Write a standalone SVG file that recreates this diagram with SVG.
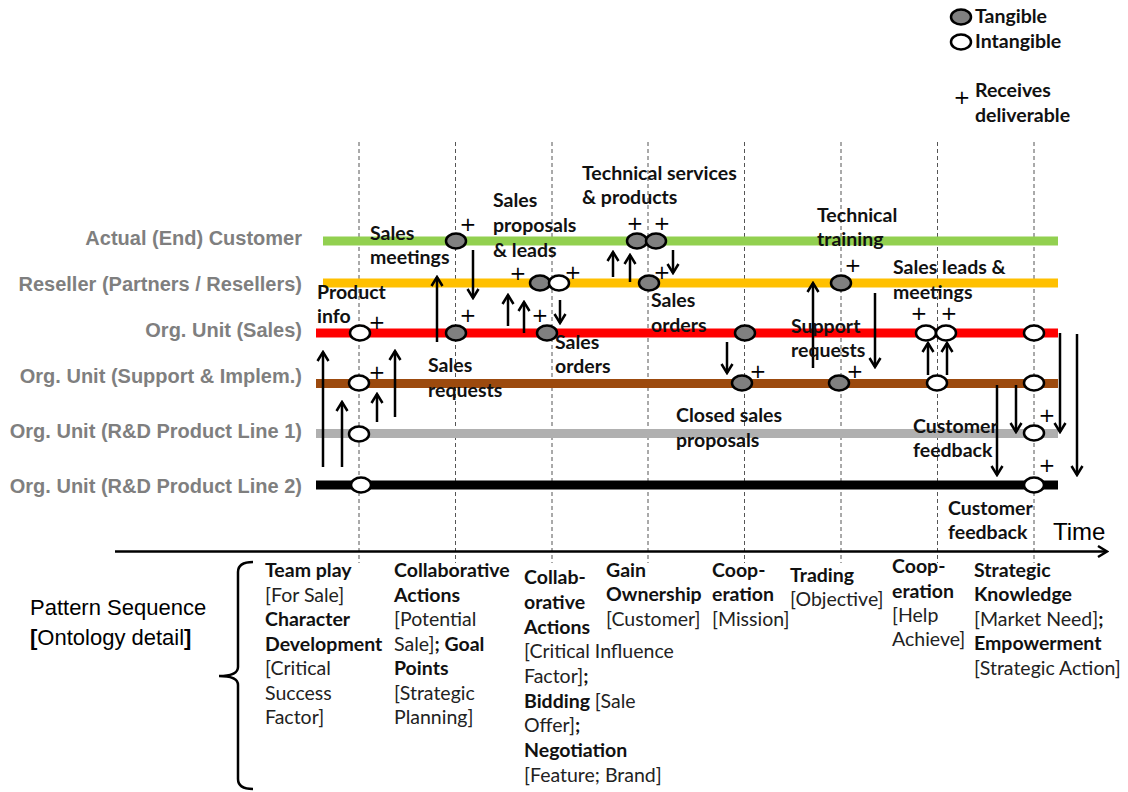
<svg xmlns="http://www.w3.org/2000/svg" width="1128" height="792" viewBox="0 0 1128 792">
<style>
.lane{stroke-width:9;fill:none}
.grid{stroke:#555;stroke-width:1;stroke-dasharray:4 3;fill:none}
.lbl{font-family:"Liberation Sans",Arial,sans-serif;font-weight:bold;font-size:20px;fill:#7f7f7f;text-anchor:end}
.t{font-family:Lato,"Liberation Sans",sans-serif;font-weight:bold;font-size:19.5px;fill:#111}
.r{font-weight:normal;fill:#222}
.b{font-weight:bold;fill:#111}
.p{font-family:"DejaVu Sans",sans-serif;font-size:20px;fill:#000;text-anchor:middle}
.tg{fill:#808080;stroke:#000;stroke-width:2.5}
.it{fill:#fff;stroke:#000;stroke-width:2.5}
.arr{stroke:#000;stroke-width:2.5;fill:none;marker-end:url(#ah)}
</style>
<defs>
<marker id="ah" markerUnits="userSpaceOnUse" viewBox="-12 -8 14 16" refX="0" refY="0" markerWidth="14" markerHeight="16" orient="auto">
<path d="M-9,-5.5 L0,0 L-9,5.5" fill="none" stroke="#000" stroke-width="2.5"/>
</marker>
</defs>

<g id="grid">
<line class="grid" x1="359" y1="142" x2="359" y2="563"/>
<line class="grid" x1="455.5" y1="142" x2="455.5" y2="563"/>
<line class="grid" x1="552" y1="142" x2="552" y2="563"/>
<line class="grid" x1="648" y1="142" x2="648" y2="563"/>
<line class="grid" x1="744.5" y1="142" x2="744.5" y2="563"/>
<line class="grid" x1="841" y1="142" x2="841" y2="563"/>
<line class="grid" x1="937.5" y1="142" x2="937.5" y2="563"/>
<line class="grid" x1="1034" y1="142" x2="1034" y2="563"/>
</g>

<g id="lanes">
<line class="lane" x1="323" y1="241" x2="1058" y2="241" stroke="#92d050" stroke-width="8"/>
<line class="lane" x1="323" y1="283" x2="1058" y2="283" stroke="#ffc000" stroke-width="8"/>
<line class="lane" x1="316" y1="333" x2="1058" y2="333" stroke="#ff0000"/>
<line class="lane" x1="316" y1="383.5" x2="1058" y2="383.5" stroke="#9c4a0e"/>
<line class="lane" x1="316" y1="433.5" x2="1058" y2="433.5" stroke="#b0b0b0" stroke-width="8"/>
<line class="lane" x1="316" y1="485" x2="1058" y2="485" stroke="#000"/>
</g>

<g id="lane-labels">
<text class="lbl" x="302" y="245">Actual (End) Customer</text>
<text class="lbl" x="302" y="291">Reseller (Partners / Resellers)</text>
<text class="lbl" x="302" y="337">Org. Unit (Sales)</text>
<text class="lbl" x="302" y="383">Org. Unit (Support &amp; Implem.)</text>
<text class="lbl" x="302" y="438">Org. Unit (R&amp;D Product Line 1)</text>
<text class="lbl" x="302" y="493">Org. Unit (R&amp;D Product Line 2)</text>
</g>

<g id="connectors">
<line class="arr" x1="323" y1="467" x2="323" y2="352"/>
<line class="arr" x1="342" y1="467" x2="342" y2="402"/>
<line class="arr" x1="377" y1="422" x2="377" y2="394"/>
<line class="arr" x1="395" y1="417" x2="395" y2="351"/>
<line class="arr" x1="437" y1="342" x2="437" y2="277"/>
<line class="arr" x1="508" y1="326" x2="508" y2="295"/>
<line class="arr" x1="524" y1="333" x2="524" y2="302"/>
<line class="arr" x1="613" y1="277" x2="613" y2="252"/>
<line class="arr" x1="630" y1="282" x2="630" y2="255"/>
<line class="arr" x1="813" y1="368" x2="813" y2="283"/>
<line class="arr" x1="928" y1="375" x2="928" y2="343"/>
<line class="arr" x1="947" y1="375" x2="947" y2="343"/>
<line class="arr" x1="473" y1="250" x2="473" y2="298"/>
<line class="arr" x1="560" y1="300" x2="560" y2="323"/>
<line class="arr" x1="673" y1="250" x2="673" y2="273"/>
<line class="arr" x1="727" y1="342" x2="727" y2="373"/>
<line class="arr" x1="875" y1="293" x2="875" y2="367"/>
<line class="arr" x1="997" y1="385" x2="997" y2="475"/>
<line class="arr" x1="1016" y1="385" x2="1016" y2="432"/>
<line class="arr" x1="1060" y1="333" x2="1060" y2="432"/>
<line class="arr" x1="1077" y1="334" x2="1077" y2="475"/>
<line class="arr" x1="115" y1="551.5" x2="1107" y2="551.5"/>
</g>

<g id="nodes">
<g id="n-green-456"><ellipse class="tg" cx="456" cy="241" rx="10" ry="7.5"/></g>
<g id="n-green-637"><ellipse class="tg" cx="637" cy="241" rx="10" ry="7.5"/></g>
<g id="n-green-656"><ellipse class="tg" cx="656" cy="241" rx="10" ry="7.5"/></g>
<g id="n-yellow-540"><ellipse class="tg" cx="540" cy="283" rx="10" ry="7.5"/></g>
<g id="n-yellow-559"><ellipse class="it" cx="559" cy="283" rx="10" ry="7.5"/></g>
<g id="n-yellow-649"><ellipse class="tg" cx="649" cy="283" rx="10" ry="7.5"/></g>
<g id="n-yellow-841"><ellipse class="tg" cx="841" cy="283" rx="10" ry="7.5"/></g>
<g id="n-red-360"><ellipse class="it" cx="360" cy="333" rx="10" ry="7.5"/></g>
<g id="n-red-456"><ellipse class="tg" cx="456" cy="333" rx="10" ry="7.5"/></g>
<g id="n-red-547"><ellipse class="tg" cx="547" cy="333" rx="10" ry="7.5"/></g>
<g id="n-red-745"><ellipse class="tg" cx="745" cy="333" rx="10" ry="7.5"/></g>
<g id="n-red-926"><ellipse class="it" cx="926" cy="333" rx="10" ry="7.5"/></g>
<g id="n-red-946"><ellipse class="it" cx="946" cy="333" rx="10" ry="7.5"/></g>
<g id="n-red-1034"><ellipse class="it" cx="1034" cy="333" rx="10" ry="7.5"/></g>
<g id="n-brown-359"><ellipse class="it" cx="359" cy="383" rx="10" ry="7.5"/></g>
<g id="n-brown-742"><ellipse class="tg" cx="742" cy="383" rx="10" ry="7.5"/></g>
<g id="n-brown-839"><ellipse class="tg" cx="839" cy="383" rx="10" ry="7.5"/></g>
<g id="n-brown-937"><ellipse class="it" cx="937" cy="383" rx="10" ry="7.5"/></g>
<g id="n-brown-1034"><ellipse class="it" cx="1034" cy="383" rx="10" ry="7.5"/></g>
<g id="n-gray-359"><ellipse class="it" cx="359" cy="434" rx="10" ry="7.5"/></g>
<g id="n-gray-1034"><ellipse class="it" cx="1034" cy="433" rx="10" ry="7.5"/></g>
<g id="n-black-361"><ellipse class="it" cx="361" cy="485" rx="10" ry="7.5"/></g>
<g id="n-black-1034"><ellipse class="it" cx="1034" cy="485" rx="10" ry="7.5"/></g>
</g>

<g id="plus-marks">
<text class="p" x="377" y="329">+</text>
<text class="p" x="377" y="379">+</text>
<text class="p" x="468" y="231">+</text>
<text class="p" x="468" y="322">+</text>
<text class="p" x="518" y="280">+</text>
<text class="p" x="573" y="279">+</text>
<text class="p" x="540" y="322">+</text>
<text class="p" x="635" y="230">+</text>
<text class="p" x="662" y="230">+</text>
<text class="p" x="662" y="279">+</text>
<text class="p" x="853" y="272">+</text>
<text class="p" x="758" y="378">+</text>
<text class="p" x="855" y="378">+</text>
<text class="p" x="919" y="320">+</text>
<text class="p" x="949" y="320">+</text>
<text class="p" x="1047" y="422">+</text>
<text class="p" x="1047" y="472">+</text>
</g>

<g id="flow-labels" class="t">
<text x="317" y="299">Product</text><text x="317" y="323">info</text>
<text x="370" y="240">Sales</text><text x="370" y="264">meetings</text>
<text x="493" y="207">Sales</text><text x="493" y="232">proposals</text><text x="493" y="257">&amp; leads</text>
<text x="582" y="180">Technical services</text><text x="582" y="204">&amp; products</text>
<text x="428" y="372">Sales</text><text x="428" y="397">requests</text>
<text x="555" y="349">Sales</text><text x="555" y="373">orders</text>
<text x="651" y="307">Sales</text><text x="651" y="332">orders</text>
<text x="817" y="222">Technical</text><text x="817" y="246">training</text>
<text x="791" y="333">Support</text><text x="791" y="357">requests</text>
<text x="676" y="422">Closed sales</text><text x="676" y="447">proposals</text>
<text x="893" y="274">Sales leads &amp;</text><text x="893" y="299">meetings</text>
<text x="913" y="433">Customer</text><text x="913" y="457">feedback</text>
<text x="948" y="515">Customer</text><text x="948" y="539">feedback</text>
</g>

<g id="legend">
<ellipse class="tg" cx="961" cy="17" rx="10" ry="7.5"/>
<text class="t" x="975" y="23">Tangible</text>
<ellipse class="it" cx="961" cy="42" rx="10" ry="7.5"/>
<text class="t" x="975" y="48">Intangible</text>
<text class="p" x="962" y="104">+</text>
<text class="t" x="975" y="97">Receives</text>
<text class="t" x="975" y="122">deliverable</text>
</g>

<g id="time-axis">
<text x="1053" y="540" font-family="Liberation Sans,Arial,sans-serif" font-size="24" fill="#000">Time</text>
</g>

<g id="pattern-sequence">
<text x="30" y="615" font-family="Liberation Sans,Arial,sans-serif" font-size="22" fill="#000">Pattern Sequence</text>
<text x="30" y="645" font-family="Liberation Sans,Arial,sans-serif" font-size="22" fill="#000"><tspan font-weight="bold">[</tspan>Ontology detail<tspan font-weight="bold">]</tspan></text>
<path d="M253,562 Q238,562 238,572 L238,667 Q238,676 219,676 Q238,676 238,685 L238,779 Q238,789 253,789" fill="none" stroke="#000" stroke-width="2.5"/>
</g>

<g id="pattern-columns" class="t">
<text x="265" y="577">Team play</text>
<text x="265" y="602" class="r">[For Sale]</text>
<text x="265" y="626">Character</text>
<text x="265" y="651">Development</text>
<text x="265" y="675" class="r">[Critical</text>
<text x="265" y="700" class="r">Success</text>
<text x="265" y="724" class="r">Factor]</text>

<text x="394" y="577">Collaborative</text>
<text x="394" y="602">Actions</text>
<text x="394" y="626" class="r">[Potential</text>
<text x="394" y="651"><tspan class="r">Sale]</tspan>; Goal</text>
<text x="394" y="675">Points</text>
<text x="394" y="700" class="r">[Strategic</text>
<text x="394" y="724" class="r">Planning]</text>

<text x="524" y="584">Collab-</text>
<text x="524" y="609">orative</text>
<text x="524" y="634">Actions</text>
<text x="524" y="658" class="r">[Critical Influence</text>
<text x="524" y="683"><tspan class="r">Factor]</tspan>;</text>
<text x="524" y="708">Bidding <tspan class="r">[Sale</tspan></text>
<text x="524" y="732"><tspan class="r">Offer]</tspan>;</text>
<text x="524" y="757">Negotiation</text>
<text x="524" y="782" class="r">[Feature; Brand]</text>

<text x="606" y="577">Gain</text>
<text x="606" y="601">Ownership</text>
<text x="606" y="626" class="r">[Customer]</text>

<text x="712" y="577">Coop-</text>
<text x="712" y="601">eration</text>
<text x="712" y="626" class="r">[Mission]</text>

<text x="790" y="582">Trading</text>
<text x="790" y="606" class="r">[Objective]</text>

<text x="892" y="573">Coop-</text>
<text x="892" y="598">eration</text>
<text x="892" y="622" class="r">[Help</text>
<text x="892" y="646" class="r">Achieve]</text>

<text x="974" y="577">Strategic</text>
<text x="974" y="601">Knowledge</text>
<text x="974" y="626"><tspan class="r">[Market Need]</tspan>;</text>
<text x="974" y="650">Empowerment</text>
<text x="974" y="675" class="r">[Strategic Action]</text>
</g>
</svg>
